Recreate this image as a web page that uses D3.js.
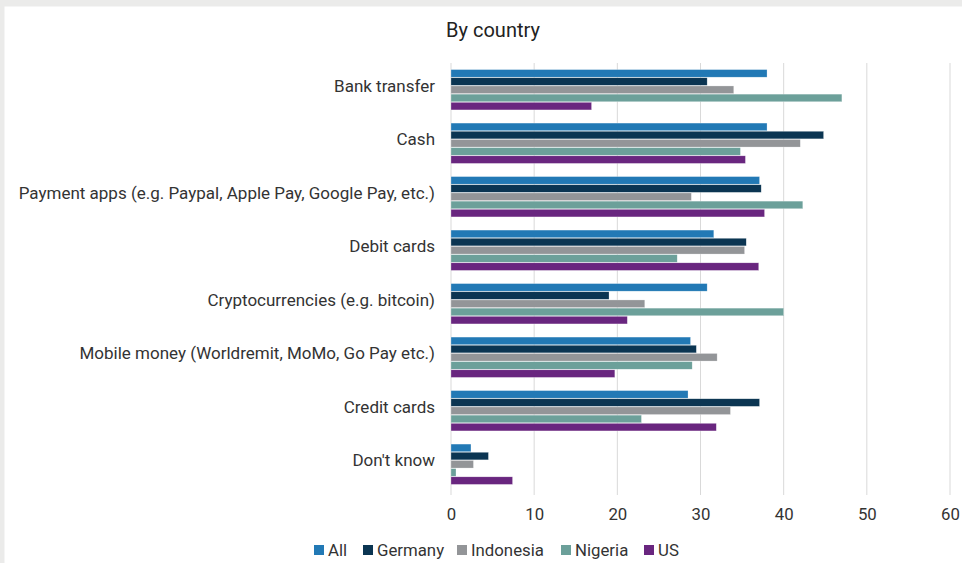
<!DOCTYPE html>
<html><head><meta charset="utf-8">
<script src="https://cdn.jsdelivr.net/npm/d3@7"></script>
<style>
html,body{margin:0;padding:0;background:#ebebea;}
svg{display:block;}
text{font-family:Roboto,"Noto Sans",sans-serif;}
</style></head><body>
<svg id="chart" width="962" height="563"></svg>
<script>
const categories = ["Bank transfer","Cash","Payment apps (e.g. Paypal, Apple Pay, Google Pay, etc.)","Debit cards","Cryptocurrencies (e.g. bitcoin)","Mobile money (Worldremit, MoMo, Go Pay etc.)","Credit cards","Don't know"];
const seriesNames = ["All","Germany","Indonesia","Nigeria","US"];
const seriesColors = ["#2279b5","#0b3552","#939598","#6ca09a","#69267f"];
const valuesAll       = [38, 38, 37.1, 31.6, 30.8, 28.8, 28.5, 2.4];
const valuesGermany   = [30.8, 44.8, 37.3, 35.5, 19.0, 29.5, 37.1, 4.5];
const valuesIndonesia = [34.0, 42.0, 28.9, 35.3, 23.3, 32.0, 33.6, 2.7];
const valuesNigeria   = [47.0, 34.8, 42.3, 27.2, 40.0, 29.0, 22.9, 0.6];
const valuesUS        = [16.9, 35.4, 37.7, 37.0, 21.2, 19.7, 31.9, 7.4];
const xTicks = [0,10,20,30,40,50,60];
const chartTitle = "By country";

const seriesValues = [valuesAll, valuesGermany, valuesIndonesia, valuesNigeria, valuesUS];
const svg = d3.select("#chart");
svg.append("rect").attr("x",4.5).attr("y",6.5).attr("width",962).attr("height",563).attr("fill","#ffffff");

const pLeft = 451, pRight = 950, pTop = 63, pBottom = 491;
const x = d3.scaleLinear().domain([0,60]).range([pLeft,pRight]);
const y = d3.scaleBand().domain(categories).range([pTop,pBottom]).paddingInner(0.235).paddingOuter(0.1175);
const ys = d3.scaleBand().domain(seriesNames).range([0,y.bandwidth()]);

svg.append("text").attr("x",493).attr("y",37).attr("text-anchor","middle")
  .attr("font-size",20).attr("fill","#222").text(chartTitle);

// gridlines
svg.append("g").selectAll("line").data(xTicks).join("line")
  .attr("x1",d=>x(d)).attr("x2",d=>x(d)).attr("y1",pTop).attr("y2",pBottom+4)
  .attr("stroke","#d9d9d9").attr("stroke-width",1);

// x axis
const xAxis = d3.axisBottom(x).tickValues(xTicks).tickSize(0).tickPadding(0);
const gx = svg.append("g").attr("transform",`translate(0,${pBottom+29})`).call(xAxis);
gx.select(".domain").remove();
gx.selectAll("text").attr("font-size",16.8).attr("fill","#333").attr("dy",0).style("font-family","Roboto");

// bars
const data = [];
categories.forEach((c,i)=>seriesNames.forEach((s,j)=>data.push({c,s,j,v:seriesValues[j][i]})));
svg.append("g").selectAll("rect").data(data).join("rect")
  .attr("x",x(0)).attr("y",d=>y(d.c)+ys(d.s)+0.3)
  .attr("width",d=>x(d.v)-x(0)).attr("height",ys.bandwidth()-0.6)
  .attr("fill",d=>seriesColors[d.j])
  .attr("stroke","#ffffff").attr("stroke-opacity",0.5).attr("stroke-width",0.5);

// y axis labels
const yAxis = d3.axisLeft(y).tickSize(0).tickPadding(0);
const gy = svg.append("g").attr("transform",`translate(435,0)`).call(yAxis);
gy.select(".domain").remove();
gy.selectAll("text").attr("font-size",17).attr("fill","#333").attr("dy","0.12em").style("font-family","Roboto");

// legend
const legendX = [314,363,457,561,644];
const lg = svg.append("g").selectAll("g").data(seriesNames).join("g")
  .attr("transform",(d,i)=>`translate(${legendX[i]},545)`);
lg.append("rect").attr("width",10).attr("height",10).attr("fill",(d,i)=>seriesColors[i]);
lg.append("text").attr("x",14).attr("y",10.8).attr("font-size",16.8).attr("fill","#333").text(d=>d);
</script>
</body></html>
